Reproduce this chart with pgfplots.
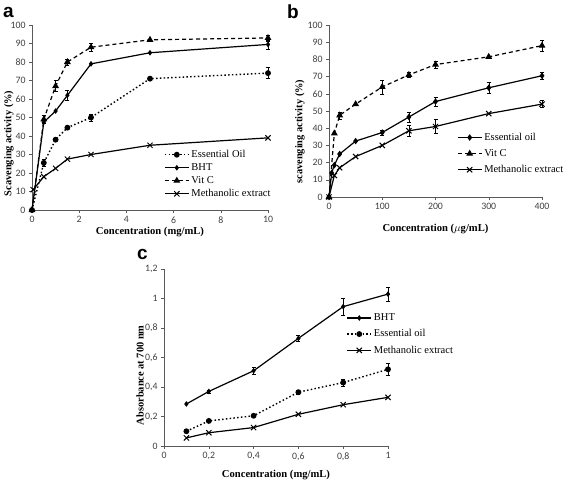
\documentclass[border=0pt]{standalone}
\usepackage{fontspec}
\setmainfont{Liberation Serif}
\newfontfamily\tickfont{Carlito}
\newfontfamily\letterfont{Liberation Sans}
\usepackage{pgfplots}
\pgfplotsset{compat=1.18}
\pgfplotsset{
  panel/.style={
    scale only axis,
    axis lines=left,
    axis line style={-, black!65, line width=0.6pt},
    tick style={black!65, line width=0.5pt},
    tick align=outside,
    major tick length=3pt,
    tick label style={font=\tickfont\fontsize{9.8}{9.8}\selectfont, text=black!75},
    /pgf/number format/assume math mode=true,
    xlabel style={font=\bfseries\fontsize{10.6}{10.6}\selectfont, anchor=center},
    ylabel style={font=\bfseries\fontsize{10.4}{10.4}\selectfont, anchor=center},
    legend style={draw=none, fill=none, font=\fontsize{10.5}{10.5}\selectfont,
      row sep=0.5pt, inner sep=1pt},
    legend cell align=left,
    legend image code/.code={\draw[mark repeat=2,mark phase=2,##1] plot coordinates {(0cm,0cm) (0.42cm,0cm) (0.84cm,0cm)};},
    error bars/y dir=both, error bars/y explicit,
    error bars/error bar style={black, line width=0.5pt, solid},
    error bars/error mark options={black, mark size=2pt, rotate=90, solid},
    clip=false,
  },
  eo/.style={black, line width=1.4pt, dash pattern=on 1.5pt off 2.3pt, mark=*, mark size=2.2pt, mark options={solid}},
  bht/.style={black, line width=1.2pt, mark=diamond*, mark size=1.9pt, mark options={solid}},
  vitc/.style={black, line width=1.2pt, dash pattern=on 4pt off 3pt, mark=triangle*, mark size=2.8pt, mark options={solid}},
  meth/.style={black, line width=1.2pt, mark=x, mark size=3.7pt, mark options={solid, line width=1pt}},
}
\begin{document}
\begin{tikzpicture}
\useasboundingbox (0pt,0pt) rectangle (567pt,-485pt);
% ---------------- panel a
\begin{axis}[panel, at={(32pt,-210pt)}, anchor=south west,
  width=236pt, height=185pt,
  xmin=0, xmax=10, ymin=0, ymax=100,
  xtick={0,2,4,6,8,10}, ytick={0,10,...,100},
  xlabel={Concentration (mg/mL)}, ylabel={Scavenging activity (\%)},
  xlabel style={at={(axis description cs:0.5,-0.12)}},
  ylabel style={at={(axis description cs:-0.098,0.36)}},
  legend style={at={(0.555,0.34)}, anchor=north west},
]
\addplot[eo] coordinates {(0,0) (0.5,25.5) +- (0,2) (1,38) (1.5,44.5) (2.5,50) +- (0,2) (5,71) (10,74) +- (0,3)};
\addlegendentry{Essential Oil}
\addplot[bht] coordinates {(0,0) (0.5,47.5) (1,53.5) (1.5,62) +- (0,2.5) (2.5,79) (5,85) (10,89.5) +- (0,2.5)};
\addlegendentry{BHT}
\addplot[vitc] coordinates {(0,0) (0.5,49) +- (0,2) (1,67) +- (0,3) (1.5,80) +- (0,1.5) (2.5,88) +- (0,2) (5,92) (10,93) +- (0,1.5)};
\addlegendentry{Vit C}
\addplot[meth] coordinates {(0.05,11) (0.5,18) (1,22.5) (1.5,27.5) (2.5,30) (5,35) (10,39)};
\addlegendentry{Methanolic extract}
\end{axis}
\node[anchor=base west, inner sep=0pt, font=\letterfont\bfseries\fontsize{19}{19}\selectfont] at (3pt,-17pt) {a};
% ---------------- panel b
\begin{axis}[panel, at={(329pt,-197pt)}, anchor=south west,
  width=213pt, height=172pt,
  xmin=0, xmax=400, ymin=0, ymax=100,
  xtick={0,100,200,300,400}, ytick={0,10,...,100},
  xlabel={Concentration ($\mu$g/mL)}, ylabel={scavenging activity (\%)},
  xlabel style={at={(axis description cs:0.5,-0.186)}},
  ylabel style={at={(axis description cs:-0.136,0.38)}},
  legend style={at={(0.596,0.39)}, anchor=north west, row sep=3.5pt},
]
\addplot[bht, mark size=2.3pt] coordinates {(0,0) (5,14) (10,18.5) (20,25) (50,32.5) (100,37.5) +- (0,1.5) (150,46.5) +- (0,3) (200,55.5) +- (0,2.5) (300,63.5) +- (0,3) (400,70.5) +- (0,2)};
\addlegendentry{Essential oil}
\addplot[vitc] coordinates {(0,0) (10,37) (20,47.5) +- (0,2) (50,54) (100,64) +- (0,4) (150,71) +- (0,1.5) (200,77) +- (0,2) (300,81.5) (400,88) +- (0,3)};
\addlegendentry{Vit C}
\addplot[meth] coordinates {(0,0) (10,12.5) (20,17) (50,23.5) (100,30) (150,38.5) +- (0,3) (200,41) +- (0,4) (300,48.5) (400,54) +- (0,2)};
\addlegendentry{Methanolic extract}
\end{axis}
\node[anchor=base west, inner sep=0pt, font=\letterfont\bfseries\fontsize{19}{19}\selectfont] at (287pt,-18pt) {b};
% ---------------- panel c
\begin{axis}[panel, at={(164pt,-446pt)}, anchor=south west,
  width=224pt, height=177pt,
  xmin=0, xmax=1, ymin=0, ymax=1.2,
  xtick={0,0.2,...,1}, ytick={0,0.2,...,1.2},
  /pgf/number format/use comma,
  xlabel={Concentration (mg/mL)}, ylabel={Absorbance at 700 nm},
  xlabel style={at={(axis description cs:0.5,-0.164)}},
  ylabel style={at={(axis description cs:-0.107,0.40)}},
  legend style={at={(0.81,0.765)}, anchor=north west, row sep=3.5pt},
]
\addplot[bht] coordinates {(0.1,0.285) (0.2,0.37) +- (0,0.01) (0.4,0.51) +- (0,0.025) (0.6,0.73) +- (0,0.02) (0.8,0.945) +- (0,0.055) (1,1.03) +- (0,0.045)};
\addlegendentry{BHT}
\addplot[eo] coordinates {(0.1,0.10) (0.2,0.17) (0.4,0.205) (0.6,0.365) +- (0,0.015) (0.8,0.43) +- (0,0.025) (1,0.52) +- (0,0.04)};
\addlegendentry{Essential oil}
\addplot[meth] coordinates {(0.1,0.055) (0.2,0.09) (0.4,0.125) (0.6,0.215) (0.8,0.28) (1,0.33)};
\addlegendentry{Methanolic extract}
\end{axis}
\node[anchor=base west, inner sep=0pt, font=\letterfont\bfseries\fontsize{19}{19}\selectfont] at (137pt,-259pt) {c};
\end{tikzpicture}
\end{document}
